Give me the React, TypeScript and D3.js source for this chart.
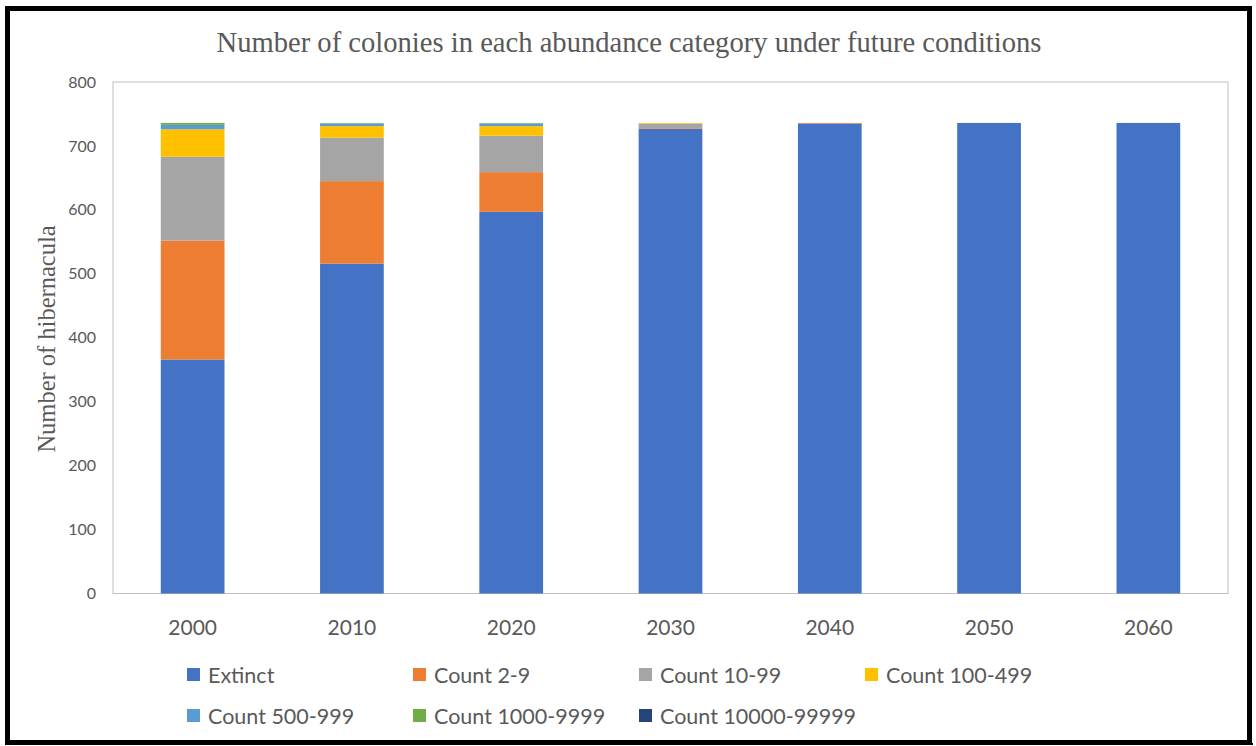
import * as d3 from "d3";

const years = ["2000", "2010", "2020", "2030", "2040", "2050", "2060"];
const categories = [
  "Extinct",
  "Count 2-9",
  "Count 10-99",
  "Count 100-499",
  "Count 500-999",
  "Count 1000-9999",
  "Count 10000-99999",
];
const colours = ["#4472C4", "#ED7D31", "#A5A5A5", "#FFC000", "#5B9BD5", "#70AD47", "#264478"];

// one array per year, ordered like categories
const extinct = [366, 516, 597, 727, 735, 736, 736];
const count2to9 = [186, 129, 62, 1, 1, 0, 0];
const count10to99 = [131, 68, 57, 7, 0, 0, 0];
const count100to499 = [43, 18, 15, 1, 0, 0, 0];
const count500to999 = [7, 4, 4, 0, 0, 0, 0];
const count1000to9999 = [3, 1, 1, 0, 0, 0, 0];
const count10000to99999 = [0, 0, 0, 0, 0, 0, 0];

const yTicks = [0, 100, 200, 300, 400, 500, 600, 700, 800];

const series = [
  extinct,
  count2to9,
  count10to99,
  count100to499,
  count500to999,
  count1000to9999,
  count10000to99999,
];

const rows = years.map((y, i) => {
  const r: Record<string, number | string> = { year: y };
  categories.forEach((c, j) => (r[c] = series[j][i]));
  return r;
});

const width = 1256;
const height = 746;
const plot = { left: 113, right: 1228, top: 82, bottom: 593.5 };
const textGrey = "#595959";

function App() {
  const x = d3
    .scaleBand()
    .domain(years)
    .range([plot.left, plot.right])
    .paddingInner(0.6)
    .paddingOuter(0.3);
  const y = d3.scaleLinear().domain([0, 800]).range([plot.bottom, plot.top]);

  const stacked = d3.stack<any>().keys(categories)(rows as any);

  const legendX = d3.scaleLinear().domain([0, 1]).range([187, 413]);

  return (
    <svg
      width={width}
      height={height}
      style={{ position: "absolute", left: 0, top: 0, background: "#fff" }}
    >
      <rect x={0} y={0} width={width} height={height} fill="#fff" />
      {/* frame */}
      <rect x={7.5} y={8.5} width={1242} height={734} fill="none" stroke="#000" strokeWidth={5} />
      <line x1={1251} x2={1251} y1={6} y2={745} stroke="#000" strokeWidth={2} />
      <line x1={5} x2={1253} y1={744} y2={744} stroke="#000" strokeWidth={2} />

      <text
        x={629}
        y={52}
        textAnchor="middle"
        fontFamily="'Liberation Serif', 'Times New Roman', serif"
        fontSize={28.6}
        fill={textGrey}
      >
        Number of colonies in each abundance category under future conditions
      </text>

      {/* plot area */}
      <rect
        x={plot.left}
        y={plot.top}
        width={plot.right - plot.left}
        height={plot.bottom - plot.top}
        fill="none"
        stroke="#BFBFBF"
        strokeWidth={1}
      />

      {stacked.map((s, j) => (
        <g key={categories[j]} fill={colours[j]}>
          {s.map((d, i) =>
            d[1] - d[0] > 0 ? (
              <rect
                key={years[i]}
                x={x(years[i])}
                width={x.bandwidth()}
                y={y(d[1])}
                height={y(d[0]) - y(d[1])}
              />
            ) : null
          )}
        </g>
      ))}

      {yTicks.map((t) => (
        <text
          key={t}
          x={96}
          y={y(t)}
          dy="0.35em"
          textAnchor="end"
          fontFamily="Lato, sans-serif"
          fontSize={16}
          fill={textGrey}
        >
          {t}
        </text>
      ))}

      {years.map((yr) => (
        <text
          key={yr}
          x={(x(yr) as number) + x.bandwidth() / 2}
          y={628}
          dy="0.35em"
          textAnchor="middle"
          fontFamily="Lato, sans-serif"
          fontSize={21}
          fill={textGrey}
        >
          {yr}
        </text>
      ))}

      <text
        transform={`translate(55, 339) rotate(-90)`}
        textAnchor="middle"
        fontFamily="'Liberation Serif', 'Times New Roman', serif"
        fontSize={24.5}
        fill={textGrey}
      >
        Number of hibernacula
      </text>

      {categories.map((c, j) => {
        const col = j % 4;
        const row = Math.floor(j / 4);
        const lx = legendX(col);
        const ly = 675 + row * 41;
        return (
          <g key={c}>
            <rect x={lx} y={ly - 7} width={13} height={13} fill={colours[j]} />
            <text
              x={lx + 21}
              y={ly}
              dy="0.35em"
              fontFamily="Lato, sans-serif"
              fontSize={21.5}
              fill={textGrey}
            >
              {c}
            </text>
          </g>
        );
      })}
    </svg>
  );
}

export default App;
